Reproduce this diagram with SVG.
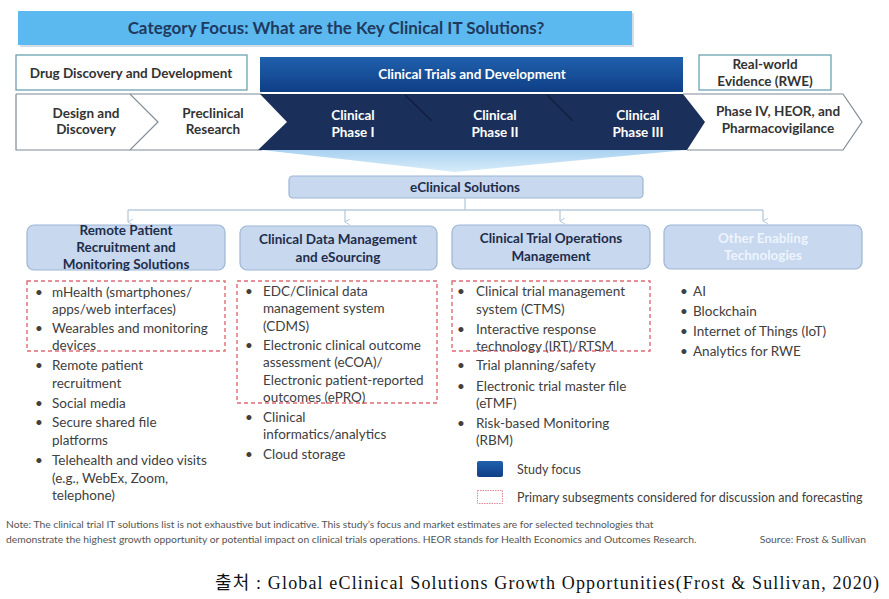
<svg xmlns="http://www.w3.org/2000/svg" width="889" height="599" viewBox="0 0 889 599">
<defs>
<linearGradient id="gBlue" x1="0" y1="0" x2="0" y2="1"><stop offset="0" stop-color="#2060ad"/><stop offset="1" stop-color="#0f3f86"/></linearGradient>
<linearGradient id="gFan" x1="0" y1="0" x2="0" y2="1"><stop offset="0" stop-color="#a9d2f0"/><stop offset="1" stop-color="#d8ecfa"/></linearGradient>
<marker id="arr" markerWidth="6" markerHeight="6" refX="3" refY="5" orient="auto-start-reverse" markerUnits="userSpaceOnUse"><path d="M0,0 L3,5 L6,0" fill="none" stroke="#b7cbdb" stroke-width="1"/></marker>
<style>
.t{font-family:Lato,"Liberation Sans",sans-serif}
.b{font-weight:bold}
.hdr{font-family:Lato,"Liberation Sans",sans-serif;font-weight:bold;font-size:13.5px;fill:#1f2d4a;text-anchor:middle}
.li{font-family:Lato,"Liberation Sans",sans-serif;font-size:13.5px;fill:#404040}
.wb{fill:#fff;stroke:#5f9aab;stroke-width:1.2}
.hb{fill:#c7d8ef;stroke:#9eb5d3;stroke-width:1.2}
.rd{fill:none;stroke:#e06b76;stroke-width:1.4;stroke-dasharray:4 3}
.wt{fill:#fff;font-weight:bold;font-size:13.5px;text-anchor:middle}
.conn{fill:none;stroke:#b7cbdb;stroke-width:1.3}
.note{font-family:Lato,"Liberation Sans",sans-serif;font-size:10.3px;fill:#555}
</style>
</defs>
<rect width="889" height="599" fill="#fff"/>

<g id="title">
<rect x="20" y="13" width="614" height="34" fill="#8a9bb0" opacity="0.35"/>
<rect x="18" y="11" width="614" height="34" fill="#5cb9ef"/>
<text x="336" y="34" class="t b" font-size="17" fill="#1f3a60" text-anchor="middle">Category Focus: What are the Key Clinical IT Solutions?</text>
</g>

<g id="drug-discovery">
<rect x="16" y="55" width="231" height="35" class="wb"/>
<text x="131" y="78" class="t b" font-size="13.5" fill="#333" text-anchor="middle">Drug Discovery and Development</text>
</g>

<g id="clinical-trials">
<rect x="260" y="57" width="423" height="35" fill="url(#gBlue)"/>
<text x="472" y="79" class="t wt">Clinical Trials and Development</text>
</g>

<g id="rwe">
<rect x="699" y="55" width="132" height="35" class="wb"/>
<text x="765" y="69" class="t b" font-size="13.5" fill="#333" text-anchor="middle">Real-world</text>
<text x="765" y="86" class="t b" font-size="13.5" fill="#333" text-anchor="middle">Evidence (RWE)</text>
</g>

<g id="fan">
<polygon points="262,150 686,150 455,172" fill="url(#gFan)"/>
</g>

<g id="stage-design">
<polyline points="16,94 130,94 158,122 130,150 16,150 16,94" fill="#fff" stroke="#7e8a96" stroke-width="1.2"/>
<text x="86" y="118" class="t b" font-size="13.5" fill="#333" text-anchor="middle">Design and</text>
<text x="86" y="134" class="t b" font-size="13.5" fill="#333" text-anchor="middle">Discovery</text>
</g>
<g id="stage-preclinical">
<polyline points="130,94 262,94" fill="none" stroke="#7e8a96" stroke-width="1.2"/>
<polyline points="130,150 262,150" fill="none" stroke="#7e8a96" stroke-width="1.2"/>
<text x="213" y="118" class="t b" font-size="13.5" fill="#333" text-anchor="middle">Preclinical</text>
<text x="213" y="134" class="t b" font-size="13.5" fill="#333" text-anchor="middle">Research</text>
</g>
<g id="stage-clinical">
<polygon points="260,94 683,94 705,122 687,150 258,150 287,122" fill="#1b2f5b"/>
<line x1="405" y1="95" x2="432" y2="121" stroke="#111f40" stroke-width="1.5"/>
<line x1="547" y1="95" x2="573" y2="121" stroke="#111f40" stroke-width="1.5"/>
<text x="353" y="120" class="t wt">Clinical</text>
<text x="353" y="137" class="t wt">Phase I</text>
<text x="495" y="120" class="t wt">Clinical</text>
<text x="495" y="137" class="t wt">Phase II</text>
<text x="638" y="120" class="t wt">Clinical</text>
<text x="638" y="137" class="t wt">Phase III</text>
</g>
<g id="stage-phase4">
<polyline points="683,94 843,94 862,122 843,150 687,150" fill="none" stroke="#7e8a96" stroke-width="1.2"/>
<text x="778" y="116" class="t b" font-size="13.5" fill="#333" text-anchor="middle">Phase IV, HEOR, and</text>
<text x="778" y="133" class="t b" font-size="13.5" fill="#333" text-anchor="middle">Pharmacovigilance</text>
</g>

<g id="eclinical">
<rect x="289" y="176" width="354" height="22" rx="4" class="hb"/>
<text x="465" y="192" class="t b" font-size="13.5" fill="#1f2d4a" text-anchor="middle">eClinical Solutions</text>
</g>

<g id="connectors">
<polyline class="conn" points="465,198 465,210"/>
<polyline class="conn" points="128,210 763,210"/>
<line class="conn" x1="128" y1="210" x2="128" y2="222" marker-end="url(#arr)"/>
<line class="conn" x1="345" y1="210" x2="345" y2="222" marker-end="url(#arr)"/>
<line class="conn" x1="560" y1="210" x2="560" y2="221" marker-end="url(#arr)"/>
<line class="conn" x1="763" y1="210" x2="763" y2="221" marker-end="url(#arr)"/>
</g>

<g id="remote-patient">
<rect x="27" y="225" width="198" height="45" rx="7" class="hb"/>
<text x="126" y="235" class="hdr">Remote Patient</text>
<text x="126" y="252" class="hdr">Recruitment and</text>
<text x="126" y="269" class="hdr">Monitoring Solutions</text>
<rect x="27" y="281" width="198" height="70" class="rd"/>
<text class="li">
<tspan x="35" y="297">•</tspan><tspan x="52" y="297">mHealth (smartphones/</tspan>
<tspan x="52" y="314">apps/web interfaces)</tspan>
<tspan x="35" y="333">•</tspan><tspan x="52" y="333">Wearables and monitoring</tspan>
<tspan x="52" y="350">devices</tspan>
<tspan x="35" y="370">•</tspan><tspan x="52" y="370">Remote patient</tspan>
<tspan x="52" y="388">recruitment</tspan>
<tspan x="35" y="408">•</tspan><tspan x="52" y="408">Social media</tspan>
<tspan x="35" y="427">•</tspan><tspan x="52" y="427">Secure shared file</tspan>
<tspan x="52" y="445">platforms</tspan>
<tspan x="35" y="465">•</tspan><tspan x="52" y="465">Telehealth and video visits</tspan>
<tspan x="52" y="483">(e.g., WebEx, Zoom,</tspan>
<tspan x="52" y="500">telephone)</tspan>
</text>
</g>

<g id="clinical-data">
<rect x="240" y="226" width="197" height="44" rx="7" class="hb"/>
<text x="338" y="244" class="hdr">Clinical Data Management</text>
<text x="338" y="262" class="hdr">and eSourcing</text>
<rect x="237" y="281" width="200" height="122" class="rd"/>
<text class="li">
<tspan x="245" y="296">•</tspan><tspan x="263" y="296">EDC/Clinical data</tspan>
<tspan x="263" y="313">management system</tspan>
<tspan x="263" y="331">(CDMS)</tspan>
<tspan x="245" y="350">•</tspan><tspan x="263" y="350">Electronic clinical outcome</tspan>
<tspan x="263" y="367">assessment (eCOA)/</tspan>
<tspan x="263" y="385">Electronic patient-reported</tspan>
<tspan x="263" y="402">outcomes (ePRO)</tspan>
<tspan x="245" y="422">•</tspan><tspan x="263" y="422">Clinical</tspan>
<tspan x="263" y="439">informatics/analytics</tspan>
<tspan x="245" y="459">•</tspan><tspan x="263" y="459">Cloud storage</tspan>
</text>
</g>

<g id="trial-ops">
<rect x="452" y="225" width="198" height="44" rx="7" class="hb"/>
<text x="551" y="243" class="hdr">Clinical Trial Operations</text>
<text x="551" y="261" class="hdr">Management</text>
<rect x="452" y="281" width="198" height="70" class="rd"/>
<text class="li">
<tspan x="457" y="296">•</tspan><tspan x="476" y="296">Clinical trial management</tspan>
<tspan x="476" y="314">system (CTMS)</tspan>
<tspan x="457" y="334">•</tspan><tspan x="476" y="334">Interactive response</tspan>
<tspan x="476" y="351">technology (IRT)/RTSM</tspan>
<tspan x="457" y="370">•</tspan><tspan x="476" y="370">Trial planning/safety</tspan>
<tspan x="457" y="391">•</tspan><tspan x="476" y="391">Electronic trial master file</tspan>
<tspan x="476" y="408">(eTMF)</tspan>
<tspan x="457" y="428">•</tspan><tspan x="476" y="428">Risk-based Monitoring</tspan>
<tspan x="476" y="445">(RBM)</tspan>
</text>
</g>

<g id="other-tech">
<rect x="664" y="225" width="198" height="44" rx="7" class="hb"/>
<text x="763" y="243" class="hdr" style="fill:#eef4fc">Other Enabling</text>
<text x="763" y="260" class="hdr" style="fill:#eef4fc">Technologies</text>
<text class="li">
<tspan x="680" y="296">•</tspan><tspan x="693" y="296">AI</tspan>
<tspan x="680" y="316">•</tspan><tspan x="693" y="316">Blockchain</tspan>
<tspan x="680" y="336">•</tspan><tspan x="693" y="336">Internet of Things (IoT)</tspan>
<tspan x="680" y="356">•</tspan><tspan x="693" y="356">Analytics for RWE</tspan>
</text>
</g>

<g id="legend">
<rect x="477" y="461" width="26" height="16" rx="2" fill="url(#gBlue)"/>
<text x="517" y="474" class="t" font-size="12.5" fill="#404040">Study focus</text>
<rect x="477.5" y="490.5" width="25" height="13" fill="none" stroke="#e08a92" stroke-width="1" stroke-dasharray="1.5 1"/>
<text x="517" y="502" class="t" font-size="12.5" fill="#404040">Primary subsegments considered for discussion and forecasting</text>
</g>

<g id="notes">
<text x="6" y="528" class="note">Note: The clinical trial IT solutions list is not exhaustive but indicative. This study’s focus and market estimates are for selected technologies that</text>
<text x="6" y="543" class="note">demonstrate the highest growth opportunity or potential impact on clinical trials operations. HEOR stands for Health Economics and Outcomes Research.</text>
<text x="866" y="543" class="note" text-anchor="end">Source: Frost &amp; Sullivan</text>
</g>

<g id="caption">
<text x="215" y="589" font-family="'Liberation Serif','Noto Sans CJK KR',serif" font-size="18" fill="#111" textLength="664" lengthAdjust="spacing">출처 : Global eClinical Solutions Growth Opportunities(Frost &amp; Sullivan, 2020)</text>
</g>
</svg>
